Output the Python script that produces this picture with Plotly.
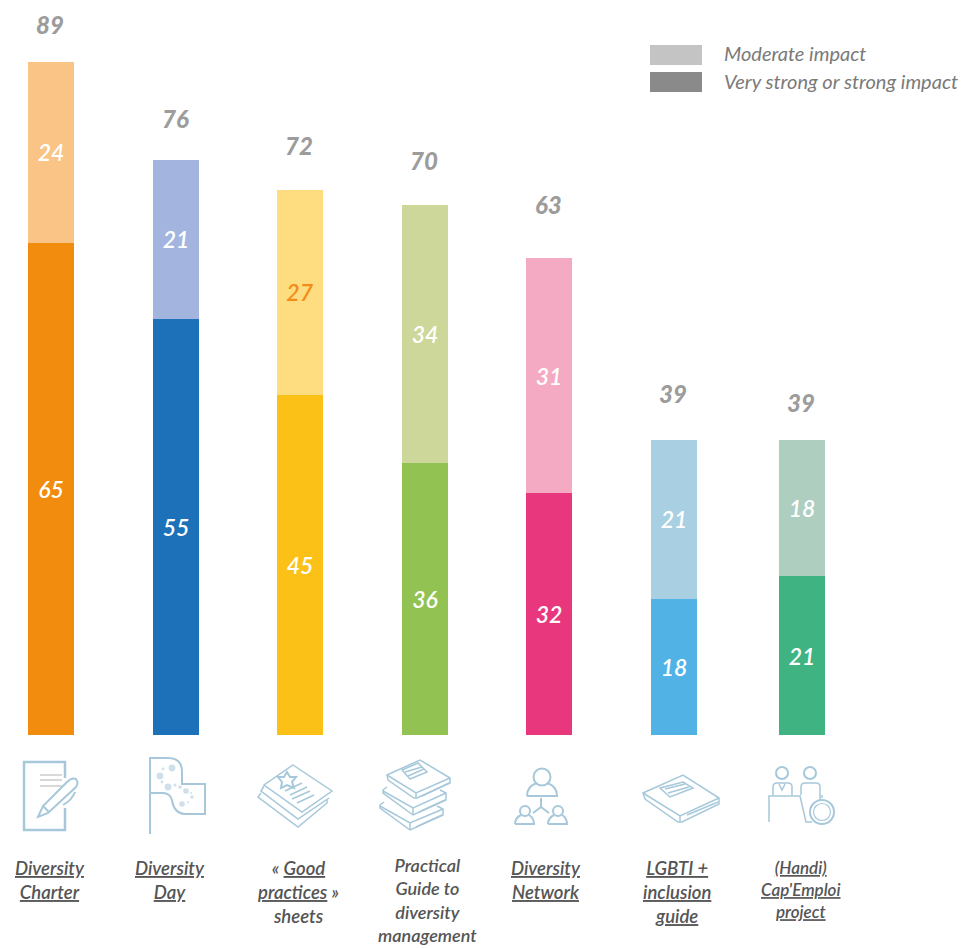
import plotly.graph_objects as go

# Chart data: share of respondents per initiative
categories = [
    "<u>Diversity</u><br><u>Charter</u>",
    "<u>Diversity</u><br><u>Day</u>",
    "« <u>Good</u><br><u>practices</u> »<br>sheets",
    "Practical<br>Guide to<br>diversity<br>management",
    "<u>Diversity</u><br><u>Network</u>",
    "<u>LGBTI +</u><br><u>inclusion</u><br><u>guide</u>",
    "<u>(Handi)</u><br><u>Cap'Emploi</u><br><u>project</u>",
]
very_strong = [65, 55, 45, 36, 32, 18, 21]
moderate = [24, 21, 27, 34, 31, 21, 18]
totals = [89, 76, 72, 70, 63, 39, 39]

# Layout of the columns and their captions, in screen pixels
bar_centers = [51, 176, 300, 425, 549, 674, 802]
caption_centers = [50, 170, 298, 427, 546, 677, 801]
caption_sizes = [18.5, 18.5, 18.5, 18, 18.5, 18.5, 17]
caption_tops = [855, 855, 855, 852, 855, 855, 855]
total_gaps = [37, 42, 45, 45, 54, 46, 37]

strong_colors = ["#f28c0f", "#1c71b8", "#fbc117", "#92c352", "#e9377e", "#50b2e5", "#40b383"]
moderate_colors = ["#fac486", "#a3b5de", "#fedd80", "#cdd79a", "#f4aac2", "#a8d0e2", "#aecec0"]
moderate_text = ["white", "white", "#f28c1b", "white", "white", "white", "white"]

FONT = "Lato"
ICON = "#a6c8da"
ICON_DOT = "#cfe0ea"
WIDTH, HEIGHT, BASELINE, PX_PER_UNIT = 965, 948, 735, 7.565

fig = go.Figure()
for values, colors, text_colors in (
    (very_strong, strong_colors, ["white"] * 7),
    (moderate, moderate_colors, moderate_text),
):
    fig.add_bar(
        x=bar_centers, y=values, width=46, text=values,
        textposition="inside", insidetextanchor="middle", textangle=0,
        insidetextfont=dict(family=FONT, size=23, style="italic", weight=600, color=text_colors),
        marker=dict(color=colors, line_width=0), showlegend=False, hoverinfo="skip",
    )

annotations = []
for x, total, gap in zip(bar_centers, totals, total_gaps):
    annotations.append(dict(
        x=x, y=total, xref="x", yref="y", xshift=-1, yshift=gap, text=str(total),
        showarrow=False, xanchor="center", yanchor="middle",
        font=dict(family=FONT, size=24, style="italic", weight=900, color="#9c9c9c"),
    ))
for x, label, size, top in zip(caption_centers, categories, caption_sizes, caption_tops):
    annotations.append(dict(
        x=x, y=top, xref="x", yref="y2", text=label, showarrow=False,
        xanchor="center", yanchor="top", align="center",
        font=dict(family=FONT, size=size, style="italic", weight=600, color="#555555"),
    ))
for y, label in ((53, "Moderate impact"), (81, "Very strong or strong impact")):
    annotations.append(dict(
        x=722, y=y, xref="x", yref="y2", text=label, showarrow=False,
        xanchor="left", yanchor="middle",
        font=dict(family=FONT, size=20, style="italic", color="#7a7a7a"),
    ))

shapes = [
    dict(type="rect", xref="x", yref="y2", x0=650, x1=702, y0=45, y1=65,
         fillcolor="#c4c4c4", line_width=0),
    dict(type="rect", xref="x", yref="y2", x0=650, x1=702, y0=72, y1=92,
         fillcolor="#8a8a8a", line_width=0),
]


def stroke(path, color=ICON, width=2):
    shapes.append(dict(type="path", xref="x", yref="y2", path=path,
                       line=dict(color=color, width=width)))


def ring(cx, cy, r, color=ICON, width=2, fill=None):
    shapes.append(dict(type="circle", xref="x", yref="y2",
                       x0=cx - r, x1=cx + r, y0=cy - r, y1=cy + r,
                       line=dict(color=color, width=width), fillcolor=fill))


# Charter: sheet and pen
stroke("M65 778 L65 762 L24 762 L24 830 L65 830 L65 808", width=2.5)
for y in (775, 780, 786):
    stroke(f"M40 {y} L62 {y}", "#cccccc", 1.5)
stroke("M38 817 L43 806 L67 782 Q72 777 76 779 Q79 783 76 787 L48 813 Z")
stroke("M43 806 L49 812")
stroke("M75 792 Q72 800 63 805")

# Day: flag on a pole with confetti dots
stroke("M150 834 L150 758 L168 758 Q182 758 182 772 L182 784 L205 784 L205 814 "
       "L186 814 Q174 814 172 800 Q170 793 163 793 L150 793")
for cx, cy, r in ((172, 768, 3.4), (160, 776, 3.4), (168, 787, 3.4), (186, 791, 2.8),
                  (182, 804, 2.8), (192, 797, 1.8), (175, 785, 1.5), (180, 787, 1.8),
                  (163, 769, 1.4), (162, 782, 1.4), (188, 802, 1.1), (191, 793, 1.1)):
    ring(cx, cy, r, ICON_DOT, 0, ICON_DOT)

# Good practices: pile of sheets with a star and lines of text
stroke("M293 765 L332 791 L302 812 L264 785 Z", width=1.5)
stroke("M264 786 L261 791 L298 819 L329 798", width=1.5)
stroke("M261 793 L258 797 L298 827 L327 803 L327 800", width=1.5)
stroke("M287 772 L290 777 L296 777 L292 782 L294 788 L287 785 L281 788 L282 782 L278 777 L284 777 Z",
       width=2)
stroke("M285 791 L302 783 M290 795 L307 787 M292 799 L310 791 M297 803 L314 795", width=1.5)

# Practical guide: three stacked books
stroke("M387 775 L420 760 L450 778 L450 783 L417 798 L414 798 L388 780 Z", width=1.5)
stroke("M387 775 L416 793 L450 778 M416 793 L416 798 M422 796 L449 783", width=1.5)
stroke("M402 770 L418 763 L427 772 L410 779 Z M405 772 L422 767 M408 776 L424 769", width=1.5)
stroke("M387 787 L383 790 L383 793 L413 815 L446 800 L446 793 L440 790", width=1.5)
stroke("M383 791 L413 808 L446 793 M413 808 L413 815 M419 812 L445 800", width=1.5)
stroke("M384 802 L380 805 L380 808 L410 830 L443 815 L443 809 L437 806", width=1.5)
stroke("M380 806 L410 823 L443 809 M410 823 L410 830 M416 827 L442 815", width=1.5)

# Network: three people linked together
ring(542, 777, 8.5)
stroke("M527 796 L557 796 Q557 786 547 783 M537 783 Q527 786 527 796")
stroke("M541 798 L541 807 M541 807 L533 813 M541 807 L549 813")
ring(525, 811, 5)
stroke("M515 824 L534 824 Q534 818 529 815 M521 815 Q515 818 515 824")
ring(558, 811, 5)
stroke("M548 824 L567 824 Q567 818 562 815 M554 815 Q548 818 548 824")

# LGBTI guide: single book
stroke("M643 793 L683 775 L719 798 L719 804 L682 822 L678 822 L645 799 Z", width=1.5)
stroke("M643 793 L680 816 L719 798 M680 816 L680 822", width=1.5)
stroke("M660 788 L683 782 L693 788 L670 797 Z M665 789 L685 784 M668 793 L689 787", width=1.5)
stroke("M687 815 L718 802", width=1.5)

# Cap'Emploi: desk, clerk and wheelchair user
ring(782, 773, 6)
stroke("M773 795 L773 787 Q773 783 777 783 L788 783 Q792 783 792 787 L792 795", width=1.5)
stroke("M779 784 L782 790 L785 784", width=1.5)
stroke("M769 822 L769 796 L800 796 L806 822 L812 822", width=1.5)
ring(810, 773, 6)
stroke("M801 795 L801 787 Q801 783 805 783 L816 783 Q820 783 820 787 L820 800", width=1.5)
ring(822, 812, 12)
ring(822, 812, 8.5, width=1.2)
stroke("M822 798 L822 795", width=1.5)

fig.update_layout(
    width=WIDTH, height=HEIGHT, barmode="stack",
    margin=dict(l=0, r=0, t=0, b=0),
    paper_bgcolor="white", plot_bgcolor="white",
    xaxis=dict(visible=False, range=[0, WIDTH], domain=[0, 1], fixedrange=True),
    # The value axis spans the full page, with zero on the bars' common baseline
    yaxis=dict(visible=False, fixedrange=True, domain=[0, 1],
               range=[-(HEIGHT - BASELINE) / PX_PER_UNIT, BASELINE / PX_PER_UNIT]),
    yaxis2=dict(visible=False, range=[HEIGHT, 0], domain=[0, 1], overlaying="y",
                anchor="x", fixedrange=True),
    annotations=annotations, shapes=shapes,
)
fig.write_html("out.html", config=dict(displayModeBar=False))
